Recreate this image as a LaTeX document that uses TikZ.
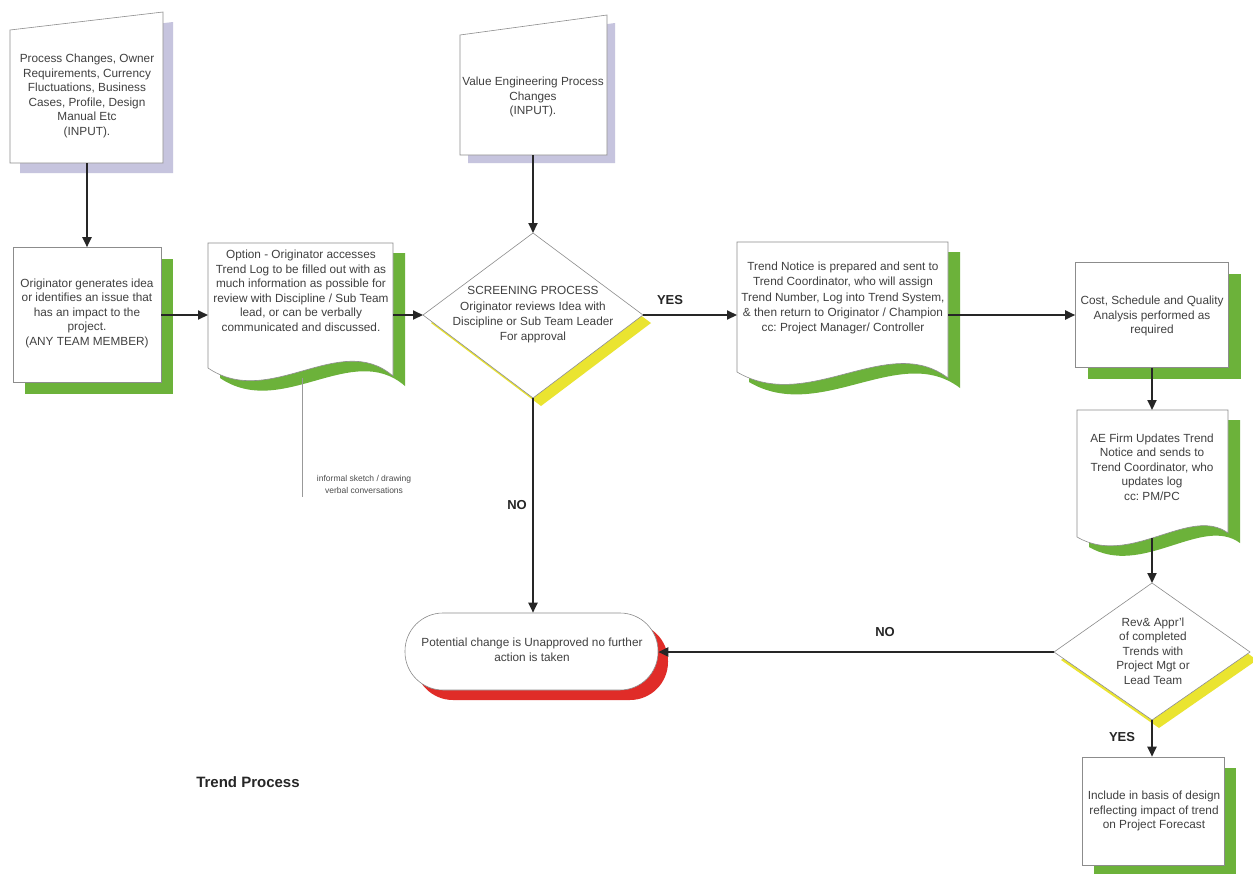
\documentclass[tikz,border=0pt]{standalone}
\usepackage{fontspec}
\setmainfont{Liberation Sans}
\usetikzlibrary{arrows.meta}
\definecolor{leafgreen}{RGB}{108,178,58}
\definecolor{lavender}{RGB}{198,196,222}
\definecolor{signyellow}{RGB}{234,228,48}
\definecolor{stopred}{RGB}{224,44,40}
\tikzset{
	backdrop/.style n args={3}{preaction={fill=#1,draw=none,transform canvas={xshift=#2,yshift=#3}}},
	outline/.style={draw=black!45,line width=0.6pt,fill=white},
	boxtext/.style={align=center,font=\fontsize{11.8}{14.5}\selectfont,text=black!75},
	procbox/.style={outline,inner sep=0pt,backdrop={leafgreen}{12pt}{-11pt}},
	flow/.style={line width=2pt,black!85,-{Triangle[length=10pt,width=9pt]}},
	answer/.style={font=\fontsize{13}{15}\bfseries,text=black!85}
}

\begin{document}
\frenchspacing
\begin{tikzpicture}[x=1pt,y=-1pt]
		\fill[white] (0,0) rectangle (1253,873);
		\useasboundingbox (0,0) rectangle (1253,873);

		\draw[outline,backdrop={lavender}{10pt}{-10pt}] (10,30) -- (163,12) -- (163,163) -- (10,163) -- cycle;
		\node[boxtext] (inputA) at (87,96) {Process Changes, Owner\\Requirements, Currency\\Fluctuations, Business\\Cases, Profile, Design\\Manual Etc\\(INPUT).};
		\coordinate (inputAS) at (87,163);

		\draw[outline,backdrop={lavender}{8pt}{-8pt}] (460,35) -- (607,15) -- (607,155) -- (460,155) -- cycle;
		\node[boxtext] (inputB) at (533,97) {Value Engineering Process\\Changes\\(INPUT).};
		\coordinate (inputBS) at (533,155);

		\node[procbox,minimum width=148pt,minimum height=135pt] (orig) at (87,315) {};
		\node[boxtext] (origtext) at (87,313) {Originator generates idea\\or identifies an issue that\\has an impact to the\\project.\\(ANY TEAM MEMBER)};

		\draw[outline,backdrop={leafgreen}{12pt}{-10pt}] (208,243) -- (393,243) -- (393,376) .. controls (340,330) and (270,410) .. (208,368) -- cycle;
		\node[boxtext] (option) at (301,291) {Option - Originator accesses\\Trend Log to be filled out with as\\much information as possible for\\review with Discipline / Sub Team\\lead, or can be verbally\\communicated and discussed.};
		\coordinate (optionW) at (208,315);
		\coordinate (optionE) at (393,315);
		\coordinate (noteTop) at (302,378);
		\coordinate (noteEnd) at (302,497);
		\draw[black!40,line width=0.8pt] (noteTop) -- (noteEnd);
		\node[align=center,font=\fontsize{8.5}{12}\selectfont,text=black!70] (sketch) at (364,484) {informal sketch / drawing\\verbal conversations};

		\draw[outline,backdrop={signyellow}{8pt}{-8pt}] (533,233) -- (643,315) -- (533,398) -- (423,315) -- cycle;
		\node[boxtext,font=\fontsize{11.8}{15.3}\selectfont] (screen) at (533,315) {SCREENING PROCESS\\Originator reviews Idea with\\Discipline or Sub Team Leader\\For approval};
		\coordinate (screenN) at (533,233);
		\coordinate (screenE) at (643,315);
		\coordinate (screenS) at (533,398);
		\coordinate (screenW) at (423,315);

		\draw[outline,backdrop={leafgreen}{12pt}{-10pt}] (737,242) -- (948,242) -- (948,378) .. controls (888,332) and (808,414) .. (737,372) -- cycle;
		\node[boxtext,font=\fontsize{11.8}{15.2}\selectfont] (notice) at (843,298) {Trend Notice is prepared and sent to\\Trend Coordinator, who will assign\\Trend Number, Log into Trend System,\\\& then return to Originator / Champion\\cc: Project Manager/ Controller};
		\coordinate (noticeW) at (737,315);
		\coordinate (noticeE) at (948,315);

		\node[procbox,minimum width=153pt,minimum height=105pt] (cost) at (1152,315) {};
		\node[boxtext] (costtext) at (1152,316) {Cost, Schedule and Quality\\Analysis performed as\\required};

		\draw[outline,backdrop={leafgreen}{12pt}{-10pt}] (1077,410) -- (1228,410) -- (1228,533) .. controls (1190,505) and (1130,568) .. (1077,537) -- cycle;
		\node[boxtext] (update) at (1152,467) {AE Firm Updates Trend\\Notice and sends to\\Trend Coordinator, who\\updates log\\cc: PM/PC};
		\coordinate (updateN) at (1152,410);
		\coordinate (updateS) at (1152,538);

		\draw[outline,backdrop={signyellow}{7pt}{-8pt}] (1152,583) -- (1250,652) -- (1152,720) -- (1054,652) -- cycle;
		\node[boxtext] (review) at (1153,651) {Rev\& Appr'l\\of completed\\Trends with\\Project Mgt or\\Lead Team};
		\coordinate (reviewN) at (1152,583);
		\coordinate (reviewS) at (1152,720);
		\coordinate (reviewW) at (1054,652);

		\node[procbox,minimum width=142pt,minimum height=108pt] (include) at (1153,811) {};
		\node[boxtext] (includetext) at (1154,811) {Include in basis of design\\reflecting impact of trend\\on Project Forecast};

		\node[outline,rounded corners=38pt,minimum width=253pt,minimum height=77pt,backdrop={stopred}{10pt}{-10pt}] (halt) at (531.5,651.5) {};
		\node[boxtext] (halttext) at (532,650) {Potential change is Unapproved no further\\action is taken};

		\draw[flow] (inputAS) -- (orig.north);
		\draw[flow] (orig.east) -- (optionW);
		\draw[flow] (optionE) -- (screenW);
		\draw[flow] (inputBS) -- (screenN);
		\draw[flow] (screenE) -- (noticeW);
		\draw[flow] (noticeE) -- (cost.west);
		\draw[flow] (cost.south) -- (updateN);
		\draw[flow] (updateS) -- (reviewN);
		\draw[flow] (reviewW) -- (reviewW -| halt.east);
		\draw[flow] (reviewS) -- (reviewS |- include.north);
		\draw[flow] (screenS) -- (screenS |- halt.north);

		\node[answer] (yesA) at (670,300) {YES};
		\node[answer] (noA) at (517,505) {NO};
		\node[answer] (noB) at (885,632) {NO};
		\node[answer] (yesB) at (1122,737) {YES};
		\node[font=\fontsize{15}{18}\bfseries,text=black!85] (title) at (248,782) {Trend Process};
	\end{tikzpicture}
\end{document}
